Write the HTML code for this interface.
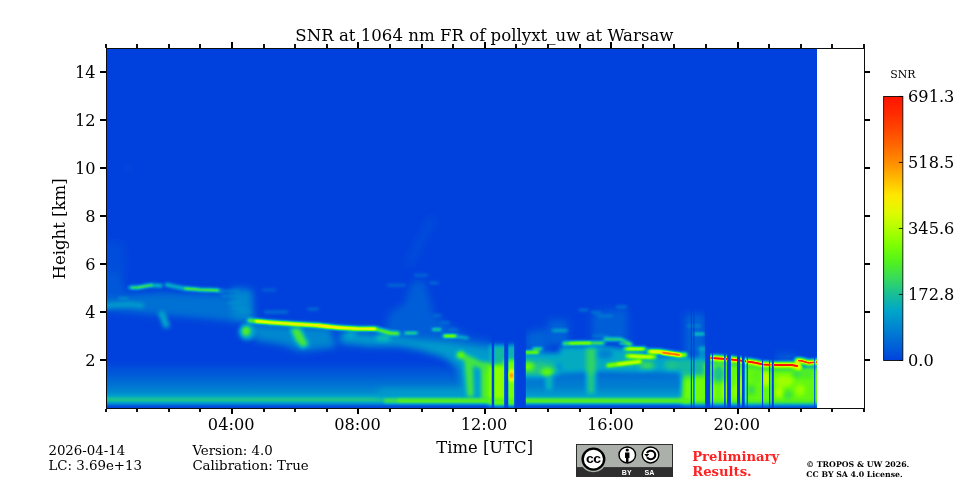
<!DOCTYPE html>
<html>
<head>
<meta charset="utf-8">
<title>SNR at 1064 nm FR of pollyxt_uw at Warsaw</title>
<style>
html,body{margin:0;padding:0;background:#fff;}
body{width:960px;height:480px;overflow:hidden;position:relative;font-family:"DejaVu Serif","Liberation Serif",serif;color:#000;}
svg{position:absolute;left:0;top:0;display:block;}
text{font-family:"DejaVu Serif","Liberation Serif",serif;fill:#000;}
.t16,.t16 text{font-size:16.67px;}
.t12 text{font-size:13.35px;}
.t10{font-size:10.95px;}
.prelim text{font-size:13.2px;font-weight:bold;fill:#ff2222;}
.copy text{font-size:7.8px;font-weight:bold;}
.badge text{font-family:"Liberation Sans","DejaVu Sans",sans-serif;font-weight:bold;}
</style>
</head>
<body>
<svg id="fig" width="960" height="480" viewBox="0 0 960 480">
<defs>
<filter id="cmap" filterUnits="userSpaceOnUse" x="107" y="49" width="710" height="359" color-interpolation-filters="sRGB"><feComponentTransfer><feFuncR type="table" tableValues="0.0000 0.0000 0.0000 0.0000 0.0941 0.2196 0.3255 0.4902 0.6980 0.8824 1.0000 1.0000 1.0000 1.0000 1.0000 1.0000 1.0000"/><feFuncG type="table" tableValues="0.2588 0.3961 0.5216 0.6471 0.7451 0.8588 0.9490 1.0000 0.9961 0.9804 0.9098 0.7294 0.5529 0.4078 0.2745 0.1647 0.0784"/><feFuncB type="table" tableValues="0.8667 0.8431 0.8157 0.7961 0.5882 0.3529 0.1098 0.0078 0.0000 0.0000 0.0000 0.0000 0.0000 0.0000 0.0000 0.0000 0.0000"/></feComponentTransfer></filter>
<filter id="b0_7" filterUnits="userSpaceOnUse" x="60" y="20" width="800" height="420" color-interpolation-filters="sRGB"><feGaussianBlur stdDeviation="0.7"/></filter>
<filter id="b1_0" filterUnits="userSpaceOnUse" x="60" y="20" width="800" height="420" color-interpolation-filters="sRGB"><feGaussianBlur stdDeviation="1.0"/></filter>
<filter id="b1_4" filterUnits="userSpaceOnUse" x="60" y="20" width="800" height="420" color-interpolation-filters="sRGB"><feGaussianBlur stdDeviation="1.4"/></filter>
<filter id="b1_7" filterUnits="userSpaceOnUse" x="60" y="20" width="800" height="420" color-interpolation-filters="sRGB"><feGaussianBlur stdDeviation="1.7"/></filter>
<filter id="b2_0" filterUnits="userSpaceOnUse" x="60" y="20" width="800" height="420" color-interpolation-filters="sRGB"><feGaussianBlur stdDeviation="2.0"/></filter>
<filter id="b2_5" filterUnits="userSpaceOnUse" x="60" y="20" width="800" height="420" color-interpolation-filters="sRGB"><feGaussianBlur stdDeviation="2.5"/></filter>
<filter id="b3_5" filterUnits="userSpaceOnUse" x="60" y="20" width="800" height="420" color-interpolation-filters="sRGB"><feGaussianBlur stdDeviation="3.5"/></filter>
<linearGradient id="gb" gradientUnits="userSpaceOnUse" x1="0" y1="360" x2="0" y2="408"><stop offset="0.0000" stop-color="#000000" stop-opacity="0"/><stop offset="0.1667" stop-color="#060606" stop-opacity="1"/><stop offset="0.3333" stop-color="#0d0d0d" stop-opacity="1"/><stop offset="0.5208" stop-color="#171717" stop-opacity="1"/><stop offset="0.6667" stop-color="#212121" stop-opacity="1"/><stop offset="0.7500" stop-color="#2e2e2e" stop-opacity="1"/><stop offset="0.8021" stop-color="#404040" stop-opacity="1"/><stop offset="0.8438" stop-color="#414141" stop-opacity="1"/><stop offset="0.8854" stop-color="#303030" stop-opacity="1"/><stop offset="0.9271" stop-color="#1a1a1a" stop-opacity="1"/><stop offset="0.9583" stop-color="#080808" stop-opacity="1"/><stop offset="1.0000" stop-color="#000000" stop-opacity="1"/></linearGradient>
<linearGradient id="cb" x1="0" y1="1" x2="0" y2="0"><stop offset="0.0000" stop-color="#0042dd"/><stop offset="0.0625" stop-color="#0065d7"/><stop offset="0.1250" stop-color="#0085d0"/><stop offset="0.1875" stop-color="#00a5cb"/><stop offset="0.2500" stop-color="#18be96"/><stop offset="0.3125" stop-color="#38db5a"/><stop offset="0.3750" stop-color="#53f21c"/><stop offset="0.4375" stop-color="#7dff02"/><stop offset="0.5000" stop-color="#b2fe00"/><stop offset="0.5625" stop-color="#e1fa00"/><stop offset="0.6250" stop-color="#ffe800"/><stop offset="0.6875" stop-color="#ffba00"/><stop offset="0.7500" stop-color="#ff8d00"/><stop offset="0.8125" stop-color="#ff6800"/><stop offset="0.8750" stop-color="#ff4600"/><stop offset="0.9375" stop-color="#ff2a00"/><stop offset="1.0000" stop-color="#ff1400"/></linearGradient>
</defs>
<rect x="0" y="0" width="960" height="480" fill="#fff"/>
<g id="heat">
<g filter="url(#cmap)">
<rect x="100" y="40" width="730" height="380" fill="#000"/>
<g>
<rect x="107" y="360" width="710" height="48" fill="url(#gb)"/>
</g>
<g filter="url(#b3_5)">
<polygon points="98.0,297.0 125.0,295.0 160.0,293.0 220.0,295.0 245.0,299.0 252.0,322.0 230.0,321.0 200.0,318.0 150.0,314.0 98.0,309.0" fill="#161616"/>
<polygon points="98.0,270.0 121.0,270.0 127.0,298.0 98.0,298.0" fill="#0a0a0a"/>
<polygon points="100.0,240.0 124.0,244.0 126.0,272.0 100.0,272.0" fill="#050505"/>
<path d="M432.0 220.0 L420.0 242.0 L410.0 262.0" fill="none" stroke="#080808" stroke-width="5" stroke-linecap="round" stroke-linejoin="round"/>
<ellipse cx="129" cy="168" rx="3" ry="2.5" fill="#050505"/>
<polygon points="247.0,324.0 330.0,328.0 336.0,347.0 300.0,351.0 285.0,345.0 255.0,340.0" fill="#212121"/>
<polygon points="232.0,288.0 252.0,290.0 254.0,322.0 232.0,320.0" fill="#212121"/>
<polygon points="412.0,282.0 424.0,280.0 434.0,315.0 451.0,326.0 470.0,337.0 492.0,341.0 492.0,350.0 380.0,346.0 390.0,312.0 404.0,304.0" fill="#0d0d0d"/>
<polygon points="340.0,332.0 370.0,334.0 400.0,337.0 415.0,339.0 420.0,350.0 400.0,346.0 370.0,346.0 340.0,343.0" fill="#2b2b2b"/>
<polygon points="415.0,339.0 450.0,342.0 470.0,345.0 492.0,348.0 492.0,398.0 464.0,398.0 458.0,368.0 448.0,360.0 440.0,356.0 420.0,350.0" fill="#2b2b2b"/>
<path d="M378.0 393.0 L500.0 393.0" fill="none" stroke="#2b2b2b" stroke-width="8" stroke-linecap="butt" stroke-linejoin="round"/>
<polygon points="516.0,376.0 683.0,376.0 683.0,397.0 516.0,397.0" fill="#1b1b1b"/>
<path d="M516.0 394.0 L683.0 394.0" fill="none" stroke="#2e2e2e" stroke-width="6" stroke-linecap="butt" stroke-linejoin="round"/>
<polygon points="535.0,330.0 547.0,330.0 547.0,353.0 535.0,353.0" fill="#0f0f0f"/>
<polygon points="548.0,320.0 568.0,320.0 568.0,345.0 548.0,345.0" fill="#0e0e0e"/>
<polygon points="592.0,312.0 627.0,308.0 628.0,340.0 592.0,340.0" fill="#0d0d0d"/>
<polygon points="526.0,332.0 540.0,332.0 540.0,350.0 526.0,350.0" fill="#0f0f0f"/>
<polygon points="685.0,314.0 705.0,314.0 705.0,356.0 685.0,356.0" fill="#0f0f0f"/>
<polygon points="776.0,354.0 796.0,355.0 796.0,361.0 776.0,360.0" fill="#0f0f0f"/>
</g>
<g filter="url(#b2_5)">
<polygon points="519.0,359.0 540.0,357.0 556.0,364.0 560.0,374.0 545.0,377.0 519.0,377.0" fill="#454545"/>
<polygon points="519.0,353.0 562.0,353.0 562.0,366.0 545.0,362.0 519.0,360.0" fill="#333333"/>
<polygon points="560.0,347.0 600.0,346.0 603.0,372.0 560.0,374.0" fill="#333333"/>
<polygon points="600.0,346.0 645.0,351.0 645.0,373.0 600.0,372.0" fill="#333333"/>
<polygon points="640.0,356.0 690.0,357.0 690.0,374.0 640.0,372.0" fill="#303030"/>
<ellipse cx="647" cy="365.5" rx="8" ry="4.5" fill="#4f4f4f"/>
<ellipse cx="672" cy="365" rx="8" ry="6" fill="#424242"/>
<polygon points="682.0,377.0 705.0,375.0 705.0,403.5 682.0,403.5" fill="#6b6b6b"/>
<polygon points="682.0,369.0 693.0,368.0 693.0,380.0 682.0,380.0" fill="#616161"/>
<polygon points="680.0,358.0 705.0,358.0 705.0,376.0 680.0,376.0" fill="#3d3d3d"/>
<polygon points="705.0,361.0 727.0,362.0 740.0,363.5 754.0,365.5 763.0,367.5 777.0,368.0 800.0,368.0 826.0,366.0 826.0,403.5 705.0,403.5" fill="#666666"/>
<polygon points="700.0,347.0 705.0,347.0 705.0,360.0 700.0,360.0" fill="#333333"/>
</g>
<g filter="url(#b2_0)">
<path d="M98.0 306.5 L118.0 304.8 L130.0 304.3 L142.0 305.5" fill="none" stroke="#303030" stroke-width="4.5" stroke-linecap="round" stroke-linejoin="round"/>
<polygon points="158.0,312.0 164.0,311.0 170.0,327.0 164.0,328.0" fill="#363636"/>
<ellipse cx="247" cy="332" rx="8" ry="8" fill="#333333"/>
<ellipse cx="246" cy="331" rx="4.5" ry="5" fill="#616161"/>
<polygon points="290.0,328.0 300.0,328.0 309.0,345.0 302.0,348.0 295.0,340.0" fill="#595959"/>
<ellipse cx="351" cy="335" rx="6" ry="3" fill="#333333"/>
<ellipse cx="383" cy="338" rx="8" ry="3.5" fill="#3d3d3d"/>
<ellipse cx="460.8" cy="355" rx="4" ry="3.5" fill="#757575"/>
<polygon points="464.0,358.0 473.0,358.0 474.0,397.0 467.0,397.0" fill="#575757"/>
<polygon points="481.0,362.0 497.0,362.0 497.0,400.0 481.0,400.0" fill="#5e5e5e"/>
<path d="M466.0 358.0 L495.0 372.0" fill="none" stroke="#575757" stroke-width="7" stroke-linecap="round" stroke-linejoin="round"/>
<polygon points="489.0,345.0 509.0,345.0 509.0,365.0 489.0,365.0" fill="#3d3d3d"/>
<polygon points="489.0,365.0 509.0,365.0 509.0,405.0 489.0,405.0" fill="#757575"/>
<polygon points="504.0,345.0 519.0,345.0 519.0,360.0 504.0,360.0" fill="#383838"/>
<polygon points="504.0,360.0 519.0,360.0 519.0,405.0 504.0,405.0" fill="#6e6e6e"/>
<ellipse cx="511.5" cy="375.5" rx="3.5" ry="5" fill="#c7c7c7"/>
<ellipse cx="605" cy="354" rx="8" ry="5" fill="#1f1f1f"/>
<polygon points="586.0,348.0 596.0,348.0 596.0,374.0 586.0,374.0" fill="#4c4c4c"/>
<ellipse cx="528" cy="366.5" rx="6" ry="4" fill="#6b6b6b"/>
<ellipse cx="547" cy="372" rx="6" ry="3.5" fill="#6b6b6b"/>
<polygon points="545.0,376.0 553.0,376.0 552.0,390.0 546.0,390.0" fill="#3b3b3b"/>
<polygon points="586.0,373.0 596.0,373.0 595.0,394.0 587.0,394.0" fill="#454545"/>
<ellipse cx="718.5" cy="374" rx="6" ry="9" fill="#424242"/>
<ellipse cx="751.5" cy="390" rx="3" ry="4.5" fill="#4c4c4c"/>
<ellipse cx="788" cy="395" rx="4.5" ry="4" fill="#525252"/>
<ellipse cx="807" cy="374" rx="6" ry="5" fill="#5c5c5c"/>
<ellipse cx="766" cy="379" rx="2.5" ry="8" fill="#949494"/>
<ellipse cx="725" cy="391" rx="2" ry="10" fill="#8a8a8a"/>
<ellipse cx="739.5" cy="386" rx="2" ry="12" fill="#8a8a8a"/>
<ellipse cx="784" cy="381" rx="10" ry="6" fill="#7a7a7a"/>
<ellipse cx="797" cy="374" rx="4" ry="3.5" fill="#4f4f4f"/>
<ellipse cx="779" cy="392" rx="4" ry="6" fill="#808080"/>
<ellipse cx="800" cy="390" rx="5" ry="6" fill="#787878"/>
<ellipse cx="757" cy="376" rx="4" ry="6" fill="#616161"/>
<ellipse cx="734" cy="392" rx="3" ry="7" fill="#737373"/>
<ellipse cx="712" cy="392" rx="3" ry="8" fill="#757575"/>
</g>
<g filter="url(#b1_7)">
<path d="M384.0 400.8 L400.0 400.8" fill="none" stroke="#525252" stroke-width="4.5" stroke-linecap="butt" stroke-linejoin="round"/>
<path d="M398.0 400.8 L520.0 400.8" fill="none" stroke="#626262" stroke-width="4.6" stroke-linecap="butt" stroke-linejoin="round"/>
<path d="M518.0 400.8 L690.0 400.8" fill="none" stroke="#616161" stroke-width="4.6" stroke-linecap="butt" stroke-linejoin="round"/>
</g>
<g filter="url(#b1_4)">
<path d="M119.0 298.3 L128.0 298.3" fill="none" stroke="#333333" stroke-width="1.5" stroke-linecap="round" stroke-linejoin="round"/>
<path d="M130.0 287.6 L138.0 287.5 L150.0 285.3 L161.0 285.8" fill="none" stroke="#404040" stroke-width="3.5" stroke-linecap="round" stroke-linejoin="round"/>
<path d="M166.7 284.7 L175.0 286.6 L183.3 288.3 L200.0 289.7 L216.7 290.3 L221.0 290.9" fill="none" stroke="#404040" stroke-width="3.5" stroke-linecap="round" stroke-linejoin="round"/>
<path d="M221.0 291.0 L238.0 291.5" fill="none" stroke="#1f1f1f" stroke-width="3" stroke-linecap="round" stroke-linejoin="round"/>
<path d="M222.0 296.0 L235.0 296.0" fill="none" stroke="#262626" stroke-width="2" stroke-linecap="round" stroke-linejoin="round"/>
<path d="M228.0 303.0 L240.0 303.0" fill="none" stroke="#262626" stroke-width="2" stroke-linecap="round" stroke-linejoin="round"/>
<path d="M232.0 308.0 L245.0 308.0" fill="none" stroke="#262626" stroke-width="2" stroke-linecap="round" stroke-linejoin="round"/>
<path d="M240.0 311.0 L250.0 311.0" fill="none" stroke="#262626" stroke-width="2" stroke-linecap="round" stroke-linejoin="round"/>
<path d="M249.2 320.5 L271.7 322.5 L296.7 324.2 L316.7 325.3 L336.7 327.5 L356.7 328.7 L375.0 328.8 L390.0 333.0 L398.0 333.5" fill="none" stroke="#6b6b6b" stroke-width="4" stroke-linecap="round" stroke-linejoin="round"/>
<path d="M263.0 290.0 L275.0 290.0" fill="none" stroke="#141414" stroke-width="2" stroke-linecap="round" stroke-linejoin="round"/>
<path d="M308.0 309.0 L318.0 309.0" fill="none" stroke="#1a1a1a" stroke-width="2" stroke-linecap="round" stroke-linejoin="round"/>
<path d="M265.0 312.0 L287.0 312.0" fill="none" stroke="#1f1f1f" stroke-width="2" stroke-linecap="round" stroke-linejoin="round"/>
<path d="M405.0 333.0 L417.0 333.0" fill="none" stroke="#545454" stroke-width="2" stroke-linecap="round" stroke-linejoin="round"/>
<path d="M432.5 329.4 L440.6 329.4" fill="none" stroke="#525252" stroke-width="2" stroke-linecap="round" stroke-linejoin="round"/>
<path d="M443.8 336.0 L456.0 336.0" fill="none" stroke="#787878" stroke-width="2.5" stroke-linecap="round" stroke-linejoin="round"/>
<path d="M456.0 336.5 L467.5 338.0" fill="none" stroke="#4c4c4c" stroke-width="2" stroke-linecap="round" stroke-linejoin="round"/>
<path d="M433.8 315.6 L441.0 315.6" fill="none" stroke="#1a1a1a" stroke-width="2" stroke-linecap="round" stroke-linejoin="round"/>
<path d="M441.0 322.5 L449.0 322.5" fill="none" stroke="#1a1a1a" stroke-width="2" stroke-linecap="round" stroke-linejoin="round"/>
<path d="M450.0 329.4 L457.5 329.4" fill="none" stroke="#1a1a1a" stroke-width="2" stroke-linecap="round" stroke-linejoin="round"/>
<path d="M388.0 285.3 L405.0 285.3" fill="none" stroke="#1a1a1a" stroke-width="2" stroke-linecap="round" stroke-linejoin="round"/>
<path d="M415.0 275.3 L427.0 275.3" fill="none" stroke="#1a1a1a" stroke-width="2" stroke-linecap="round" stroke-linejoin="round"/>
<path d="M430.0 283.0 L437.5 283.0" fill="none" stroke="#1a1a1a" stroke-width="2" stroke-linecap="round" stroke-linejoin="round"/>
<path d="M524.0 352.2 L538.3 352.2" fill="none" stroke="#737373" stroke-width="2.5" stroke-linecap="round" stroke-linejoin="round"/>
<path d="M533.0 348.7 L541.7 348.7" fill="none" stroke="#595959" stroke-width="2" stroke-linecap="round" stroke-linejoin="round"/>
<path d="M553.0 330.5 L566.7 330.5" fill="none" stroke="#454545" stroke-width="2" stroke-linecap="round" stroke-linejoin="round"/>
<path d="M564.0 343.5 L575.0 343.0 L593.0 343.0 L603.0 343.0" fill="none" stroke="#666666" stroke-width="3.5" stroke-linecap="round" stroke-linejoin="round"/>
<path d="M605.0 339.2 L620.0 339.2 L631.0 344.2" fill="none" stroke="#616161" stroke-width="3" stroke-linecap="round" stroke-linejoin="round"/>
<path d="M625.0 348.7 L645.0 348.7" fill="none" stroke="#808080" stroke-width="3" stroke-linecap="round" stroke-linejoin="round"/>
<path d="M649.0 351.5 L660.0 351.8 L680.0 355.0 L685.0 354.8" fill="none" stroke="#808080" stroke-width="4.5" stroke-linecap="round" stroke-linejoin="round"/>
<path d="M627.0 356.0 L655.0 357.0" fill="none" stroke="#808080" stroke-width="3.5" stroke-linecap="round" stroke-linejoin="round"/>
<path d="M608.0 365.4 L640.0 361.6" fill="none" stroke="#808080" stroke-width="3.5" stroke-linecap="round" stroke-linejoin="round"/>
<path d="M598.0 316.0 L612.0 316.0" fill="none" stroke="#1f1f1f" stroke-width="2" stroke-linecap="round" stroke-linejoin="round"/>
<path d="M617.0 306.7 L626.0 306.7" fill="none" stroke="#1f1f1f" stroke-width="2" stroke-linecap="round" stroke-linejoin="round"/>
<path d="M580.0 310.0 L587.5 310.0" fill="none" stroke="#1f1f1f" stroke-width="2" stroke-linecap="round" stroke-linejoin="round"/>
<path d="M592.0 312.5 L600.0 312.5" fill="none" stroke="#1f1f1f" stroke-width="2" stroke-linecap="round" stroke-linejoin="round"/>
<path d="M593.0 336.0 L608.0 336.0" fill="none" stroke="#1f1f1f" stroke-width="2" stroke-linecap="round" stroke-linejoin="round"/>
<path d="M688.0 326.0 L700.0 326.0" fill="none" stroke="#262626" stroke-width="2" stroke-linecap="round" stroke-linejoin="round"/>
<path d="M694.0 334.0 L704.0 334.0" fill="none" stroke="#454545" stroke-width="2" stroke-linecap="round" stroke-linejoin="round"/>
<path d="M700.0 348.7 L705.0 348.7" fill="none" stroke="#404040" stroke-width="2" stroke-linecap="round" stroke-linejoin="round"/>
<path d="M710.0 357.9 L726.7 359.0 L740.0 360.6 L754.0 362.6 L763.3 364.6 L776.7 365.0 L791.7 365.0 L799.0 367.0" fill="none" stroke="#9e9e9e" stroke-width="6" stroke-linecap="round" stroke-linejoin="round"/>
<path d="M797.5 360.6 L801.7 360.8 L808.4 362.8 L824.0 361.5" fill="none" stroke="#999999" stroke-width="5.5" stroke-linecap="round" stroke-linejoin="round"/>
</g>
<g filter="url(#b1_0)">
<path d="M132.0 287.6 L138.0 287.5 L152.0 285.2" fill="none" stroke="#616161" stroke-width="1.8" stroke-linecap="round" stroke-linejoin="round"/>
<path d="M185.0 288.5 L200.0 289.7 L218.0 290.4" fill="none" stroke="#6e6e6e" stroke-width="1.8" stroke-linecap="round" stroke-linejoin="round"/>
<path d="M256.0 321.2 L271.7 322.5 L296.7 324.2 L316.7 325.3 L336.7 327.5 L356.7 328.7 L375.0 328.9" fill="none" stroke="#b8b8b8" stroke-width="2.2" stroke-linecap="round" stroke-linejoin="round"/>
<path d="M318.0 325.4 L330.0 326.8 L344.0 328.0" fill="none" stroke="#cccccc" stroke-width="1.6" stroke-linecap="round" stroke-linejoin="round"/>
<path d="M570.0 343.3 L590.0 343.0" fill="none" stroke="#808080" stroke-width="1.8" stroke-linecap="round" stroke-linejoin="round"/>
<path d="M526.0 352.3 L537.5 352.3" fill="none" stroke="#757575" stroke-width="1.8" stroke-linecap="round" stroke-linejoin="round"/>
<path d="M534.0 348.7 L541.0 348.7" fill="none" stroke="#5c5c5c" stroke-width="1.6" stroke-linecap="round" stroke-linejoin="round"/>
<path d="M445.0 336.0 L455.0 336.0" fill="none" stroke="#7a7a7a" stroke-width="1.8" stroke-linecap="round" stroke-linejoin="round"/>
<path d="M620.0 343.5 L630.0 344.5" fill="none" stroke="#6b6b6b" stroke-width="1.6" stroke-linecap="round" stroke-linejoin="round"/>
<path d="M406.0 333.0 L416.0 333.0" fill="none" stroke="#575757" stroke-width="1.5" stroke-linecap="round" stroke-linejoin="round"/>
<path d="M433.5 329.4 L440.0 329.4" fill="none" stroke="#525252" stroke-width="1.5" stroke-linecap="round" stroke-linejoin="round"/>
<path d="M695.0 334.0 L703.5 334.0" fill="none" stroke="#454545" stroke-width="1.5" stroke-linecap="round" stroke-linejoin="round"/>
<path d="M628.0 348.9 L643.0 348.9" fill="none" stroke="#999999" stroke-width="1.7" stroke-linecap="round" stroke-linejoin="round"/>
<path d="M651.0 351.5 L660.0 351.9 L680.0 355.0" fill="none" stroke="#b2b2b2" stroke-width="2.2" stroke-linecap="round" stroke-linejoin="round"/>
<path d="M630.0 356.2 L652.0 357.2" fill="none" stroke="#999999" stroke-width="1.7" stroke-linecap="round" stroke-linejoin="round"/>
<path d="M663.0 353.0 L672.0 354.0 L680.0 355.0" fill="none" stroke="#ffffff" stroke-width="2.0" stroke-linecap="round" stroke-linejoin="round"/>
<path d="M618.0 364.2 L640.0 361.6" fill="none" stroke="#999999" stroke-width="1.8" stroke-linecap="round" stroke-linejoin="round"/>
</g>
<g filter="url(#b0_7)">
<path d="M710.0 357.9 L726.7 359.0 L740.0 360.6 L754.0 362.6 L763.3 364.6 L776.7 365.0 L791.7 365.0 L797.0 366.0" fill="none" stroke="#ffffff" stroke-width="2.0" stroke-linecap="round" stroke-linejoin="round"/>
<path d="M799.0 360.7 L801.7 360.8 L808.4 362.8 L824.0 361.5" fill="none" stroke="#ebebeb" stroke-width="1.8" stroke-linecap="round" stroke-linejoin="round"/>
</g>
<g>
<rect x="491.7" y="49" width="2.50" height="359.00" fill="#000000"/>
<rect x="504.2" y="49" width="4.10" height="359.00" fill="#000000"/>
<rect x="514.2" y="49" width="11.60" height="359.00" fill="#000000"/>
<rect x="690.8" y="49" width="1.20" height="359.00" fill="#000000"/>
<rect x="693.3" y="49" width="1.20" height="359.00" fill="#000000"/>
<rect x="705.1" y="49" width="5.10" height="359.00" fill="#000000"/>
<rect x="711.9" y="49" width="1.20" height="359.00" fill="#000000"/>
<rect x="724.1" y="49" width="1.60" height="359.00" fill="#000000"/>
<rect x="727.1" y="49" width="3.80" height="359.00" fill="#000000"/>
<rect x="737" y="49" width="3.00" height="359.00" fill="#000000"/>
<rect x="742" y="49" width="2.70" height="359.00" fill="#000000"/>
<rect x="746.7" y="49" width="1.10" height="359.00" fill="#000000"/>
<rect x="762" y="49" width="1.10" height="359.00" fill="#000000"/>
<rect x="769.1" y="49" width="1.10" height="359.00" fill="#000000"/>
<rect x="771.8" y="49" width="2.00" height="359.00" fill="#000000"/>
<rect x="814.2" y="49" width="1.00" height="359.00" fill="#000000"/>
</g>
</g>
</g>
<g id="axes" stroke="#0d0d0d" fill="none" stroke-width="1">
<rect x="106.5" y="48.5" width="758" height="360"/>
</g>
<g id="ticks" fill="#000">
<rect x="105" y="44" width="2" height="4" fill="#111"/><rect x="105" y="409" width="2" height="3.0" fill="#111"/>
<rect x="136" y="44" width="2" height="4" fill="#111"/><rect x="136" y="409" width="2" height="3.0" fill="#111"/>
<rect x="168" y="44" width="2" height="4" fill="#111"/><rect x="168" y="409" width="2" height="3.0" fill="#111"/>
<rect x="199" y="44" width="2" height="4" fill="#111"/><rect x="199" y="409" width="2" height="3.0" fill="#111"/>
<rect x="231" y="42" width="2" height="6" fill="#000"/><rect x="231" y="409" width="2" height="5.0" fill="#000"/>
<rect x="263" y="44" width="2" height="4" fill="#111"/><rect x="263" y="409" width="2" height="3.0" fill="#111"/>
<rect x="294" y="44" width="2" height="4" fill="#111"/><rect x="294" y="409" width="2" height="3.0" fill="#111"/>
<rect x="326" y="44" width="2" height="4" fill="#111"/><rect x="326" y="409" width="2" height="3.0" fill="#111"/>
<rect x="357" y="42" width="2" height="6" fill="#000"/><rect x="357" y="409" width="2" height="5.0" fill="#000"/>
<rect x="389" y="44" width="2" height="4" fill="#111"/><rect x="389" y="409" width="2" height="3.0" fill="#111"/>
<rect x="421" y="44" width="2" height="4" fill="#111"/><rect x="421" y="409" width="2" height="3.0" fill="#111"/>
<rect x="452" y="44" width="2" height="4" fill="#111"/><rect x="452" y="409" width="2" height="3.0" fill="#111"/>
<rect x="484" y="42" width="2" height="6" fill="#000"/><rect x="484" y="409" width="2" height="5.0" fill="#000"/>
<rect x="515" y="44" width="2" height="4" fill="#111"/><rect x="515" y="409" width="2" height="3.0" fill="#111"/>
<rect x="547" y="44" width="2" height="4" fill="#111"/><rect x="547" y="409" width="2" height="3.0" fill="#111"/>
<rect x="579" y="44" width="2" height="4" fill="#111"/><rect x="579" y="409" width="2" height="3.0" fill="#111"/>
<rect x="610" y="42" width="2" height="6" fill="#000"/><rect x="610" y="409" width="2" height="5.0" fill="#000"/>
<rect x="642" y="44" width="2" height="4" fill="#111"/><rect x="642" y="409" width="2" height="3.0" fill="#111"/>
<rect x="673" y="44" width="2" height="4" fill="#111"/><rect x="673" y="409" width="2" height="3.0" fill="#111"/>
<rect x="705" y="44" width="2" height="4" fill="#111"/><rect x="705" y="409" width="2" height="3.0" fill="#111"/>
<rect x="737" y="42" width="2" height="6" fill="#000"/><rect x="737" y="409" width="2" height="5.0" fill="#000"/>
<rect x="768" y="44" width="2" height="4" fill="#111"/><rect x="768" y="409" width="2" height="3.0" fill="#111"/>
<rect x="800" y="44" width="2" height="4" fill="#111"/><rect x="800" y="409" width="2" height="3.0" fill="#111"/>
<rect x="831" y="44" width="2" height="4" fill="#111"/><rect x="831" y="409" width="2" height="3.0" fill="#111"/>
<rect x="863" y="44" width="2" height="4" fill="#111"/><rect x="863" y="409" width="2" height="3.0" fill="#111"/>
<rect x="100" y="359" width="6" height="2"/><rect x="865" y="359" width="5" height="2"/>
<rect x="100" y="311" width="6" height="2"/><rect x="865" y="311" width="5" height="2"/>
<rect x="100" y="263" width="6" height="2"/><rect x="865" y="263" width="5" height="2"/>
<rect x="100" y="215" width="6" height="2"/><rect x="865" y="215" width="5" height="2"/>
<rect x="100" y="167" width="6" height="2"/><rect x="865" y="167" width="5" height="2"/>
<rect x="100" y="119" width="6" height="2"/><rect x="865" y="119" width="5" height="2"/>
<rect x="100" y="71" width="6" height="2"/><rect x="865" y="71" width="5" height="2"/>
</g>
<g id="xticklabels" class="t16">
<text transform="translate(231.15 430.20) scale(0.972 1)" text-anchor="middle">04:00</text>
<text transform="translate(357.55 430.20) scale(0.972 1)" text-anchor="middle">08:00</text>
<text transform="translate(483.95 430.20) scale(0.972 1)" text-anchor="middle">12:00</text>
<text transform="translate(610.35 430.20) scale(0.972 1)" text-anchor="middle">16:00</text>
<text transform="translate(736.75 430.20) scale(0.972 1)" text-anchor="middle">20:00</text>
</g>
<g id="yticklabels" class="t16">
<text transform="translate(95.60 366.20) scale(0.972 1)" text-anchor="end">2</text>
<text transform="translate(95.60 318.20) scale(0.972 1)" text-anchor="end">4</text>
<text transform="translate(95.60 270.20) scale(0.972 1)" text-anchor="end">6</text>
<text transform="translate(95.60 222.20) scale(0.972 1)" text-anchor="end">8</text>
<text transform="translate(95.60 174.20) scale(0.972 1)" text-anchor="end">10</text>
<text transform="translate(95.60 126.20) scale(0.972 1)" text-anchor="end">12</text>
<text transform="translate(95.60 78.20) scale(0.972 1)" text-anchor="end">14</text>
</g>
<g class="t16">
<text transform="translate(484.40 40.80) scale(0.9955 1)" text-anchor="middle">SNR at 1064 nm FR of pollyxt_uw at Warsaw</text>
<text transform="translate(484.65 453.10) scale(0.985 1)" text-anchor="middle">Time [UTC]</text>
<text transform="translate(65.30 228.90) rotate(-90) scale(0.99 1)" text-anchor="middle">Height [km]</text>
</g>
<rect x="883.6500000000001" y="96.45" width="19.199999999999932" height="264.0" fill="url(#cb)" stroke="#000" stroke-width="0.85"/>
<g stroke="#000" stroke-width="0.85">
<path d="M902.85 360.45h-4"/>
<path d="M902.85 294.45h-4"/>
<path d="M902.85 228.45h-4"/>
<path d="M902.85 162.45h-4"/>
<path d="M902.85 96.45h-4"/>
</g>
<g id="cblabels" class="t16">
<text transform="translate(908.05 365.60) scale(0.972 1)">0.0</text>
<text transform="translate(908.05 299.60) scale(0.972 1)">172.8</text>
<text transform="translate(908.05 233.60) scale(0.972 1)">345.6</text>
<text transform="translate(908.05 167.60) scale(0.972 1)">518.5</text>
<text transform="translate(908.05 101.60) scale(0.972 1)">691.3</text>
</g>
<text class="t10" x="890.2" y="78.1">SNR</text>
<g class="t12">
<text x="48.4" y="454.8">2026-04-14</text>
<text x="48.4" y="470.2">LC: 3.69e+13</text>
<text x="192.4" y="454.8">Version: 4.0</text>
<text x="192.4" y="470.2">Calibration: True</text>
</g>
<g class="prelim">
<text x="692.2" y="460.6">Preliminary</text>
<text x="692.2" y="475.6">Results.</text>
</g>
<g class="copy">
<text x="806.3" y="466.9">© TROPOS &amp; UW 2026.</text>
<text x="806.3" y="476.9">CC BY SA 4.0 License.</text>
</g>
<g id="ccbadge" class="badge" transform="translate(576 444) scale(1.1023 1.0645)">
<rect x="0.45" y="0.45" width="87.1" height="30.1" fill="#abb1aa" stroke="#2a2a2a" stroke-width="0.9"/>
<rect x="0.9" y="21.7" width="86.2" height="8.5" fill="#2e2e2e"/>
<circle cx="15.8" cy="14.2" r="12.3" fill="#abb1aa"/>
<circle cx="15.8" cy="14.2" r="9.8" fill="#fff" stroke="#000" stroke-width="2.2"/>
<text x="15.7" y="17.7" text-anchor="middle" font-size="12.8" style="fill:#000;letter-spacing:-0.6px">cc</text>
<circle cx="46.5" cy="10.3" r="7.5" fill="#fff" stroke="#000" stroke-width="1.3"/>
<circle cx="46.5" cy="5.6" r="1.45" fill="#000"/>
<path d="M44.5 8h4v5.2h-0.9v4.4h-2.2v-4.4h-0.9z" fill="#000"/>
<circle cx="67.6" cy="10.3" r="7.5" fill="#fff" stroke="#000" stroke-width="1.3"/>
<path d="M64.3 8.6a4 4 0 1 1 0.2 3.8" fill="none" stroke="#000" stroke-width="1.9"/>
<path d="M61.9 9.3h4.6l-2.3 2.9z" fill="#000"/>
<text x="41.6" y="29.3" font-size="7.6" textLength="8.8" lengthAdjust="spacingAndGlyphs" style="fill:#fff">BY</text>
<text x="62.2" y="29.3" font-size="7.6" textLength="9" lengthAdjust="spacingAndGlyphs" style="fill:#fff">SA</text>
</g>
</svg>
</body>
</html>
